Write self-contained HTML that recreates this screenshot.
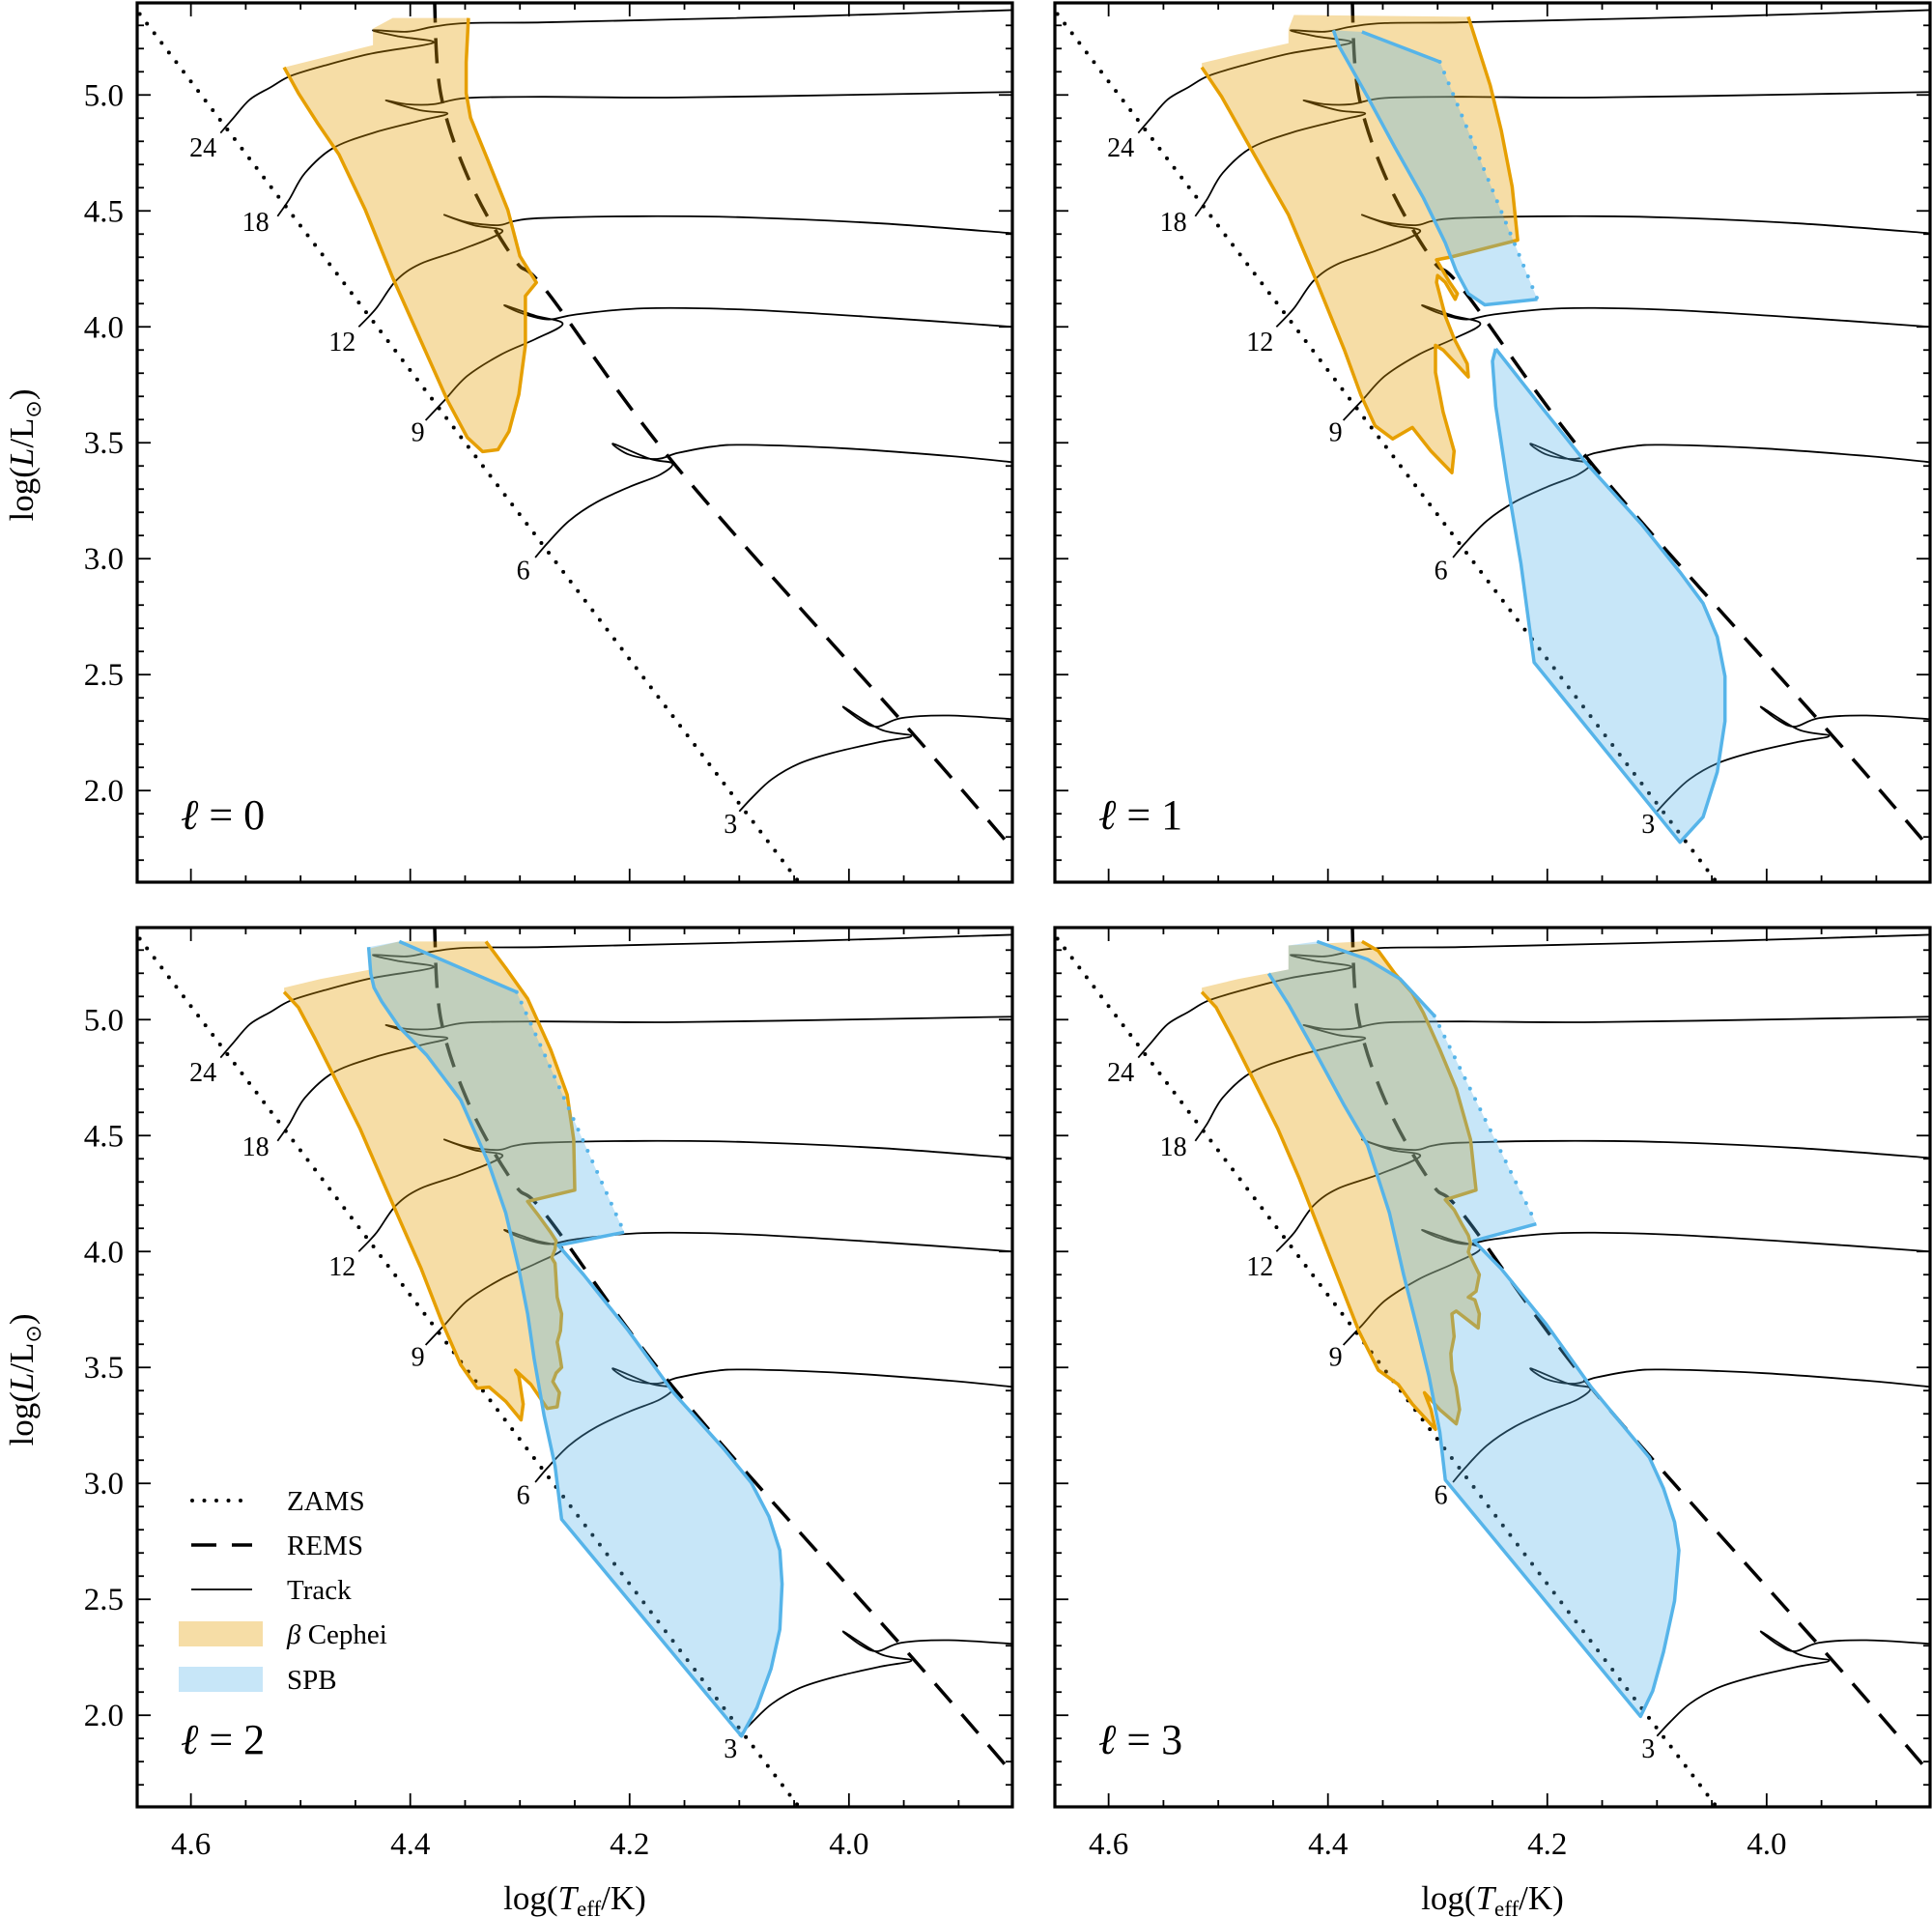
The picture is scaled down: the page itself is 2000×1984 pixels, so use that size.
<!DOCTYPE html>
<html><head><meta charset="utf-8"><style>
html,body{margin:0;padding:0;background:#fff;}
svg{display:block;font-family:"Liberation Serif",serif;}
text{font-family:"Liberation Serif",serif;}
</style></head><body>
<svg id="chart" width="2000" height="1984" viewBox="0 0 2000 1984" xmlns="http://www.w3.org/2000/svg"></svg>
<script>
// ---------- data ----------
const xDomain = [4.649, 3.851];
const yDomain = [1.605, 5.397];
const xMajorTicks = [4.6, 4.4, 4.2, 4.0];
const xTickLabels = ["4.6", "4.4", "4.2", "4.0"];
const yMajorTicks = [2.0, 2.5, 3.0, 3.5, 4.0, 4.5, 5.0];
const yTickLabels = ["2.0", "2.5", "3.0", "3.5", "4.0", "4.5", "5.0"];
const degrees = [0, 1, 2, 3];

const zamsT = [4.660, 4.040];
const zamsL = [5.432, 1.570];
const remsT = [4.378, 4.372, 4.345, 4.305, 4.275, 4.156, 3.940, 3.850, 3.840];
const remsL = [5.420, 5.000, 4.620, 4.290, 4.150, 3.390, 2.236, 1.745, 1.690];

const trackMasses = ["3", "6", "9", "12", "18", "24"];
const track3T = [4.100,4.088,4.070,4.045,4.014,3.971,3.943,3.971,4.005,3.989,3.974,3.952,3.909,3.850];
const track3L = [1.910,1.971,2.050,2.117,2.164,2.210,2.236,2.263,2.361,2.302,2.276,2.313,2.324,2.308];
const track6T = [4.286,4.274,4.255,4.230,4.200,4.172,4.161,4.181,4.215,4.200,4.175,4.156,4.125,4.094,4.002,3.909,3.850];
const track6L = [3.005,3.072,3.164,3.244,3.310,3.363,3.411,3.430,3.496,3.448,3.430,3.456,3.483,3.491,3.475,3.443,3.416];
const track9T = [4.386,4.369,4.348,4.317,4.286,4.261,4.286,4.314,4.298,4.274,4.249,4.187,4.094,3.971,3.850];
const track9L = [3.597,3.682,3.788,3.881,3.947,4.013,4.048,4.093,4.058,4.032,4.053,4.080,4.074,4.040,4.000];
const track12T = [4.447,4.431,4.413,4.391,4.354,4.316,4.342,4.369,4.348,4.320,4.305,4.280,4.187,4.094,3.971,3.850];
const track12L = [4.000,4.080,4.199,4.271,4.332,4.411,4.438,4.483,4.451,4.438,4.456,4.469,4.477,4.472,4.446,4.403];
const track18T = [4.521,4.510,4.496,4.471,4.434,4.391,4.366,4.391,4.422,4.403,4.379,4.348,4.280,4.156,3.971,3.850];
const track18L = [4.477,4.552,4.663,4.769,4.836,4.889,4.920,4.934,4.976,4.960,4.960,4.987,4.992,4.989,5.003,5.013];
const track24T = [4.573,4.561,4.546,4.527,4.509,4.478,4.434,4.379,4.410,4.434,4.403,4.379,4.348,4.280,4.156,4.033,3.850];
const track24L = [4.836,4.902,4.981,5.034,5.082,5.127,5.180,5.225,5.252,5.279,5.273,5.294,5.310,5.313,5.326,5.340,5.366];
const labelT = [4.108, 4.297, 4.393, 4.462, 4.541, 4.589];
const labelL = [1.859, 2.952, 3.549, 3.939, 4.456, 4.777];

// beta Cephei regions
const bcep0T = [4.515,4.502,4.484,4.465,4.441,4.416,4.391,4.366,4.348,4.334,4.320,4.310,4.301,4.295,4.295,4.285,4.300,4.311,4.329,4.345,4.349,4.349,4.347,4.416,4.434,4.434];
const bcep0L = [5.119,5.008,4.875,4.743,4.504,4.212,3.947,3.682,3.523,3.462,3.470,3.549,3.708,3.920,4.133,4.191,4.305,4.504,4.716,4.902,5.008,5.141,5.332,5.332,5.286,5.215];
const bcep0StrokeEnd = 22;
const bcep1T = [4.515,4.497,4.471,4.436,4.410,4.385,4.370,4.357,4.341,4.323,4.306,4.287,4.285,4.295,4.302,4.302,4.295,4.283,4.272,4.273,4.285,4.293,4.301,4.300,4.293,4.284,4.282,4.289,4.298,4.301,4.288,4.227,4.232,4.242,4.252,4.272,4.431,4.436,4.436,4.482,4.515];
const bcep1L = [5.119,4.993,4.774,4.483,4.192,3.900,3.706,3.573,3.517,3.566,3.464,3.371,3.464,3.633,3.803,3.920,3.900,3.840,3.784,3.840,3.949,4.046,4.192,4.221,4.192,4.119,4.143,4.192,4.265,4.289,4.301,4.374,4.604,4.847,5.041,5.337,5.345,5.284,5.223,5.175,5.138];
const bcep1StrokeEnd = 35;
const bcep2T = [4.515,4.502,4.487,4.469,4.446,4.426,4.408,4.390,4.372,4.354,4.339,4.328,4.313,4.299,4.297,4.301,4.304,4.290,4.275,4.266,4.264,4.270,4.267,4.262,4.264,4.266,4.263,4.262,4.266,4.268,4.271,4.268,4.267,4.272,4.283,4.293,4.250,4.251,4.257,4.272,4.293,4.313,4.331,4.410,4.436,4.436,4.482,4.515];
const bcep2L = [5.119,5.053,4.920,4.750,4.532,4.313,4.119,3.925,3.706,3.512,3.410,3.415,3.354,3.274,3.342,3.464,3.488,3.427,3.323,3.330,3.391,3.439,3.476,3.500,3.561,3.609,3.658,3.731,3.803,3.949,3.973,4.010,4.046,4.083,4.155,4.216,4.265,4.483,4.677,4.871,5.090,5.223,5.337,5.337,5.308,5.216,5.175,5.138];
const bcep2StrokeEnd = 42;
const bcep3T = [4.515,4.502,4.487,4.469,4.446,4.426,4.408,4.390,4.372,4.354,4.336,4.323,4.302,4.306,4.312,4.298,4.283,4.280,4.283,4.287,4.288,4.285,4.287,4.283,4.263,4.262,4.266,4.272,4.265,4.262,4.267,4.272,4.270,4.272,4.278,4.285,4.293,4.265,4.270,4.283,4.298,4.313,4.323,4.339,4.354,4.369,4.436,4.436,4.482,4.515];
const bcep3L = [5.119,5.053,4.920,4.750,4.532,4.313,4.095,3.876,3.658,3.488,3.427,3.342,3.233,3.318,3.391,3.318,3.257,3.318,3.415,3.488,3.561,3.633,3.731,3.743,3.670,3.731,3.791,3.803,3.828,3.900,3.949,3.998,4.034,4.070,4.119,4.180,4.223,4.265,4.483,4.701,4.871,5.029,5.114,5.199,5.296,5.337,5.320,5.216,5.175,5.138];
const bcep3StrokeEnd = 45;

// SPB regions
const spb1aT = [4.369,4.298,4.209,4.257,4.272,4.283,4.293,4.313,4.339,4.364,4.390,4.395];
const spb1aL = [5.272,5.143,4.119,4.095,4.143,4.240,4.362,4.556,4.774,4.993,5.211,5.279];
const spb1aDot = 1, spb1aStrokeEnd = 11;
const spb1bT = [4.247,4.250,4.247,4.237,4.224,4.212,4.079,4.058,4.045,4.038,4.038,4.045,4.058,4.079,4.114,4.165,4.206,4.247];
const spb1bL = [3.905,3.852,3.658,3.342,2.978,2.553,1.777,1.886,2.080,2.299,2.493,2.663,2.808,2.942,3.148,3.415,3.658,3.905];
const spb1bDot = -1, spb1bStrokeEnd = 17;
const spb2T = [4.410,4.303,4.205,4.265,4.242,4.201,4.160,4.114,4.089,4.073,4.063,4.061,4.063,4.071,4.084,4.098,4.262,4.268,4.278,4.287,4.293,4.301,4.313,4.329,4.354,4.385,4.410,4.426,4.433,4.436,4.438];
const spb2L = [5.337,5.119,4.083,4.027,3.900,3.658,3.391,3.148,3.002,2.857,2.711,2.566,2.371,2.201,2.032,1.910,2.845,3.075,3.294,3.536,3.731,3.925,4.167,4.386,4.653,4.847,4.968,5.078,5.138,5.199,5.313];
const spb2Dot = 1, spb2StrokeEnd = 30;
const spb3T = [4.410,4.364,4.334,4.303,4.210,4.267,4.242,4.201,4.160,4.107,4.094,4.084,4.080,4.084,4.094,4.104,4.115,4.293,4.298,4.308,4.318,4.331,4.344,4.364,4.385,4.410,4.436,4.454,4.436,4.436];
const spb3L = [5.337,5.260,5.175,5.017,4.119,4.046,3.925,3.687,3.415,3.112,2.978,2.833,2.711,2.493,2.274,2.104,1.995,3.015,3.221,3.464,3.658,3.900,4.167,4.459,4.629,4.847,5.066,5.199,5.216,5.320];
const spb3Dot = 3, spb3StrokeEnd = 27;

// ---------- layout ----------
const NS = "http://www.w3.org/2000/svg";
const svg = document.getElementById("chart");
const panelX = [142, 1092, 142, 1092];
const panelY = [3, 3, 960, 960];
const PW = 906, PH = 910;
const tracksT = [track3T, track6T, track9T, track12T, track18T, track24T];
const tracksL = [track3L, track6L, track9L, track12L, track18L, track24L];
const bcepT = [bcep0T, bcep1T, bcep2T, bcep3T];
const bcepL = [bcep0L, bcep1L, bcep2L, bcep3L];
const bcepEnd = [bcep0StrokeEnd, bcep1StrokeEnd, bcep2StrokeEnd, bcep3StrokeEnd];
const spbSets = [
  [],
  [[spb1aT, spb1aL, spb1aDot, spb1aStrokeEnd], [spb1bT, spb1bL, spb1bDot, spb1bStrokeEnd]],
  [[spb2T, spb2L, spb2Dot, spb2StrokeEnd]],
  [[spb3T, spb3L, spb3Dot, spb3StrokeEnd]]
];
const FONT = '"Liberation Serif", serif';

function mk(tag, attrs, parent) {
  const e = document.createElementNS(NS, tag);
  for (const k in attrs) e.setAttribute(k, attrs[k]);
  if (tag === "text") e.setAttribute("font-family", FONT);
  (parent || svg).appendChild(e);
  return e;
}
function pts(T, L, sx, sy, from, to) {
  const a = [];
  for (let i = from; i <= to; i++) a.push(sx(T[i]).toFixed(1) + "," + sy(L[i]).toFixed(1));
  return a.join(" ");
}
function smoothPath(T, L, sx, sy) {
  const P = T.map((t, i) => [sx(t), sy(L[i])]);
  let d = "M" + P[0][0].toFixed(1) + "," + P[0][1].toFixed(1);
  for (let i = 0; i < P.length - 1; i++) {
    const p0 = P[Math.max(i - 1, 0)], p1 = P[i], p2 = P[i + 1], p3 = P[Math.min(i + 2, P.length - 1)];
    const k = 1 / 6;
    const c1 = [p1[0] + (p2[0] - p0[0]) * k, p1[1] + (p2[1] - p0[1]) * k];
    const c2 = [p2[0] - (p3[0] - p1[0]) * k, p2[1] - (p3[1] - p1[1]) * k];
    d += " C" + c1[0].toFixed(1) + "," + c1[1].toFixed(1) + " " + c2[0].toFixed(1) + "," + c2[1].toFixed(1) + " " + p2[0].toFixed(1) + "," + p2[1].toFixed(1);
  }
  return d;
}

degrees.forEach((deg, p) => {
  const X0 = panelX[p], Y0 = panelY[p];
  const sx = t => X0 + (t - xDomain[0]) / (xDomain[1] - xDomain[0]) * PW;
  const sy = l => Y0 + PH - (l - yDomain[0]) / (yDomain[1] - yDomain[0]) * PH;
  const cp = mk("clipPath", {id: "clip" + p});
  mk("rect", {x: X0, y: Y0, width: PW, height: PH}, cp);
  const g = mk("g", {"clip-path": "url(#clip" + p + ")"});
  
  

  tracksT.forEach((T, i) => {
    const pl = mk("path", {d: smoothPath(T, tracksL[i], sx, sy), fill: "none", stroke: "#000", "stroke-width": 1.8, "stroke-linejoin": "round"}, g);
    
    
  });
  const z = mk("polyline", {points: pts(zamsT, zamsL, sx, sy, 0, 1), fill: "none", stroke: "#000", "stroke-width": 4, "stroke-dasharray": "0 12.5", "stroke-linecap": "round"}, g);
  
  
  const r = mk("path", {d: smoothPath(remsT, remsL, sx, sy), fill: "none", stroke: "#000", "stroke-width": 3.5, "stroke-dasharray": "26 16"}, g);
  
  

  // beta Cephei
  const bT = bcepT[p], bL = bcepL[p];
  const bf = mk("polygon", {points: pts(bT, bL, sx, sy, 0, bT.length - 1), fill: "rgba(230,159,0,0.35)", stroke: "none"}, g);
  
  
  const bs = mk("polyline", {points: pts(bT, bL, sx, sy, 0, bcepEnd[p]), fill: "none", stroke: "#E69F00", "stroke-width": 3.5, "stroke-linejoin": "round"}, g);
  
  

  // SPB
  spbSets[p].forEach(s => {
    const [T, L, dot, end] = s;
    const f = mk("polygon", {points: pts(T, L, sx, sy, 0, T.length - 1), fill: "rgba(86,180,233,0.33)", stroke: "none"}, g);
    
    
    const st = {fill: "none", stroke: "#56B4E9", "stroke-width": 3.5, "stroke-linejoin": "round"};
    if (dot < 0) {
      const a = mk("polyline", Object.assign({}, st, {points: pts(T, L, sx, sy, 0, end)}), g);
      
      
    } else {
      const a = mk("polyline", Object.assign({}, st, {points: pts(T, L, sx, sy, 0, dot)}), g);
      
      
      const d = mk("polyline", Object.assign({}, st, {points: pts(T, L, sx, sy, dot, dot + 1), "stroke-dasharray": "0 12", "stroke-linecap": "round", "stroke-width": 4}), g);
      
      
      const b = mk("polyline", Object.assign({}, st, {points: pts(T, L, sx, sy, dot + 1, end)}), g);
      
      
    }
  });

  // track labels
  labelT.forEach((t, i) => {
    const tx = mk("text", {x: sx(t), y: sy(labelL[i]) + 10, "font-size": 28, "text-anchor": "middle", fill: "#000"});
    tx.textContent = trackMasses[i];
    
    
  });

  // ticks
  const tg = mk("g", {stroke: "#000", "stroke-width": 1.8});
  
  
  for (let k = 0; k <= 20; k++) {
    const t = 4.65 - k * 0.05;
    if (t > xDomain[0] || t < xDomain[1]) continue;
    const major = Math.round(t * 100) % 20 === 0;
    const len = major ? 14 : 7, x = sx(t);
    mk("line", {x1: x, x2: x, y1: Y0 + PH, y2: Y0 + PH - len}, tg);
    mk("line", {x1: x, x2: x, y1: Y0, y2: Y0 + len}, tg);
  }
  for (let k = 0; k <= 40; k++) {
    const l = 1.6 + k * 0.1;
    if (l < yDomain[0] || l > yDomain[1]) continue;
    const major = Math.abs(Math.round(l * 10) % 5) === 0;
    const len = major ? 14 : 7, y = sy(l);
    mk("line", {x1: X0, x2: X0 + len, y1: y, y2: y}, tg);
    mk("line", {x1: X0 + PW, x2: X0 + PW - len, y1: y, y2: y}, tg);
  }
  const fr = mk("rect", {x: X0, y: Y0, width: PW, height: PH, fill: "none", stroke: "#000", "stroke-width": 3.2});
  
  

  if (p % 2 === 0) {
    yMajorTicks.forEach((l, i) => {
      const tx = mk("text", {x: X0 - 14, y: sy(l) + 11, "font-size": 33, "text-anchor": "end"});
      tx.textContent = yTickLabels[i];
      
      
    });
    const yt = mk("text", {x: 0, y: 0, "font-size": 35, "text-anchor": "middle", transform: "translate(34," + (Y0 + 468) + ") rotate(-90)"});
    yt.innerHTML = 'log(<tspan font-style="italic">L</tspan>/L<tspan font-size="22" dy="8">⊙</tspan><tspan dy="-8">)</tspan>';
    
    
  }
  if (p >= 2) {
    xMajorTicks.forEach((t, i) => {
      const tx = mk("text", {x: sx(t), y: Y0 + PH + 49, "font-size": 33, "text-anchor": "middle"});
      tx.textContent = xTickLabels[i];
      
      
    });
    const xt = mk("text", {x: X0 + 453, y: Y0 + PH + 106, "font-size": 35, "text-anchor": "middle"});
    xt.innerHTML = 'log(<tspan font-style="italic">T</tspan><tspan font-size="23" dy="7">eff</tspan><tspan dy="-7">/K)</tspan>';
    
    
  }
  const pl = mk("text", {x: X0 + 45, y: Y0 + 855, "font-size": 44});
  pl.innerHTML = '<tspan font-style="italic">ℓ</tspan> = ' + deg;
  
  
});

// legend (in l=2 panel)
const legendNames = ["ZAMS", "REMS", "Track", "β Cephei", "SPB"];
const legendY = [1553, 1599, 1645, 1691, 1738];
const lg = mk("g", {});


const lineStyles = [
  {"stroke-width": 4, "stroke-dasharray": "0 12.5", "stroke-linecap": "round"},
  {"stroke-width": 3.5, "stroke-dasharray": "26 16"},
  {"stroke-width": 1.8}
];
legendNames.forEach((n, i) => {
  const y = legendY[i];
  let sym;
  if (i < 3) {
    sym = mk("line", Object.assign({x1: i === 0 ? 199 : 198, x2: 261, y1: y, y2: y, stroke: "#000"}, lineStyles[i]), lg);
  } else {
    sym = mk("rect", {x: 185, y: y - 13, width: 87, height: 26, fill: i === 3 ? "rgba(230,159,0,0.35)" : "rgba(86,180,233,0.33)"}, lg);
  }
  
  
  const tx = mk("text", {x: 297, y: y + 10, "font-size": 29}, lg);
  if (i === 3) tx.innerHTML = '<tspan font-style="italic">β</tspan> Cephei'; else tx.textContent = n;
  
  
});
</script>
</body></html>
